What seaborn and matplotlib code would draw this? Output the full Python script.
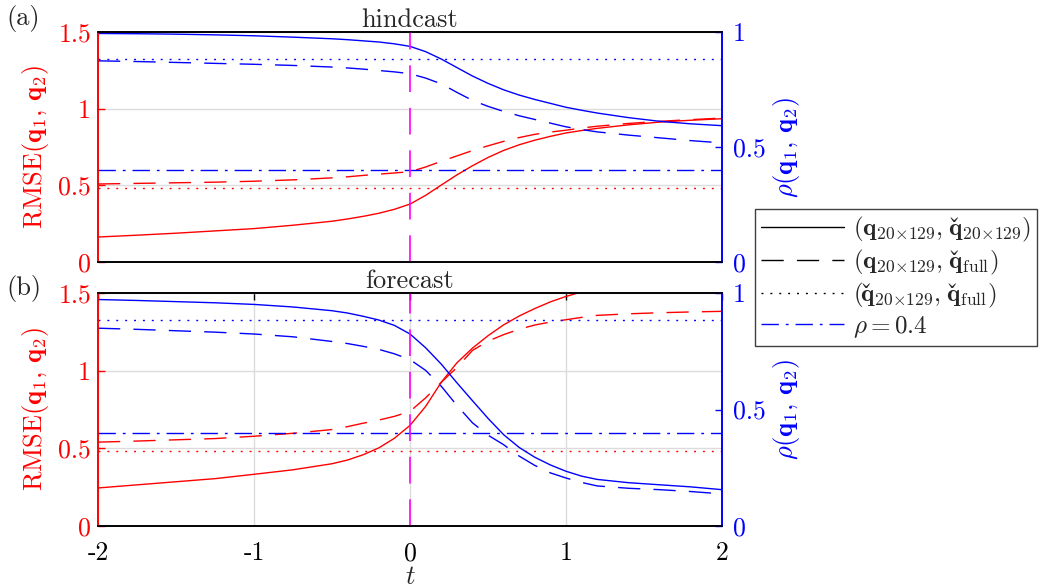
import numpy as np
import pandas as pd
import matplotlib
matplotlib.use('Agg')
import matplotlib.pyplot as plt
import seaborn as sns
from matplotlib.lines import Line2D

# tiempos
t = [-2, -1.75, -1.5, -1.25, -1, -0.75, -0.5, -0.4, -0.3, -0.2, -0.1, 0, 0.1, 0.2, 0.3,
     0.4, 0.5, 0.6, 0.7, 0.8, 0.9, 1.0, 1.1, 1.2, 1.4, 1.6, 1.8, 2.0]
t_ends = [-2, 2]

# (a) hindcast
rmse_h_solid = [0.163, 0.175, 0.188, 0.203, 0.218, 0.240, 0.266, 0.281, 0.298, 0.318,
                0.344, 0.378, 0.435, 0.502, 0.568, 0.628, 0.682, 0.728, 0.765, 0.795,
                0.820, 0.842, 0.858, 0.872, 0.895, 0.913, 0.925, 0.935]
rmse_h_dash = [0.509, 0.513, 0.517, 0.521, 0.527, 0.536, 0.549, 0.556, 0.565, 0.573,
               0.581, 0.589, 0.620, 0.657, 0.692, 0.727, 0.758, 0.787, 0.812, 0.833,
               0.848, 0.860, 0.874, 0.886, 0.904, 0.918, 0.929, 0.939]
rho_h_solid = [0.994, 0.993, 0.991, 0.988, 0.984, 0.978, 0.971, 0.967, 0.962, 0.957,
               0.949, 0.938, 0.915, 0.883, 0.846, 0.809, 0.777, 0.749, 0.726, 0.707,
               0.690, 0.673, 0.660, 0.648, 0.628, 0.612, 0.601, 0.593]
rho_h_dash = [0.875, 0.872, 0.868, 0.864, 0.860, 0.855, 0.848, 0.844, 0.839, 0.833,
              0.827, 0.819, 0.800, 0.775, 0.738, 0.703, 0.677, 0.655, 0.636, 0.620,
              0.604, 0.588, 0.576, 0.566, 0.552, 0.540, 0.528, 0.518]

# (b) forecast
rmse_f_solid = [0.245, 0.265, 0.285, 0.305, 0.333, 0.362, 0.401, 0.425, 0.459, 0.503,
                0.565, 0.648, 0.770, 0.925, 1.050, 1.145, 1.225, 1.295, 1.352, 1.400,
                1.443, 1.478, 1.507, 1.530, 1.565, 1.590, 1.605, 1.615]
rmse_f_dash = [0.540, 0.547, 0.555, 0.563, 0.578, 0.597, 0.621, 0.640, 0.662, 0.682,
               0.706, 0.738, 0.825, 0.925, 1.020, 1.130, 1.190, 1.232, 1.267, 1.294,
               1.313, 1.328, 1.343, 1.356, 1.366, 1.373, 1.378, 1.382]
rho_f_solid = [0.972, 0.968, 0.963, 0.958, 0.951, 0.940, 0.924, 0.914, 0.900, 0.884,
               0.861, 0.824, 0.765, 0.695, 0.615, 0.538, 0.462, 0.392, 0.337, 0.295,
               0.262, 0.235, 0.214, 0.200, 0.186, 0.177, 0.168, 0.156]
rho_f_dash = [0.849, 0.844, 0.838, 0.832, 0.824, 0.812, 0.792, 0.783, 0.771, 0.758,
              0.739, 0.714, 0.668, 0.600, 0.518, 0.443, 0.390, 0.349, 0.300, 0.260,
              0.228, 0.206, 0.187, 0.172, 0.162, 0.156, 0.148, 0.138]

# referencias constantes
rmse_dot = 0.485
rho_dot = 0.885
rho_thr = 0.4

x_ticks = [-2, -1, 0, 1, 2]
x_ticklabels = ['-2', '-1', '0', '1', '2']
rmse_ticks = [0, 0.5, 1, 1.5]
rmse_ticklabels = ['0', '0.5', '1', '1.5']
rho_ticks = [0, 0.5, 1]
rho_ticklabels = ['0', '0.5', '1']

# q con caron: el caron se monta sobre la q con espacio negativo
QC = r'{\hspace{0.38}\check\hspace{-0.48}\mathbf{q}}'
SUB = r'_{20{\times}129}'
legend_labels = [r'$(\mathbf{q}' + SUB + r',\,' + QC + SUB + r')$',
                 r'$(\mathbf{q}' + SUB + r',\,' + QC + r'_{\mathrm{full}})$',
                 r'$(' + QC + SUB + r',\,' + QC + r'_{\mathrm{full}})$',
                 r'$\rho = 0.4$']

sns.set_style('white')
plt.rcParams['font.family'] = ['cmr10', 'DejaVu Serif']
plt.rcParams['mathtext.fontset'] = 'cm'
plt.rcParams['axes.unicode_minus'] = False

DASH = (0, (16, 9.5))
DOT = (0, (1.4, 5))
DASHDOT = (0, (12.5, 5, 2, 5))
LW = 1.0
FS = 19
TFS = 18.5

fig = plt.figure(figsize=(10.55, 5.88), dpi=100)
ax_a = fig.add_axes([0.0929, 0.5544, 0.5915, 0.391])
ax_b = fig.add_axes([0.0929, 0.1054, 0.5915, 0.3963])


def panel(ax, title, rmse_s, rmse_d, rho_s, rho_d, show_x):
    ax2 = ax.twinx()
    ax.grid(True, color='#dcdcdc', lw=1)
    ax.set_axisbelow(True)

    sns.lineplot(x=t, y=rmse_s, ax=ax, color='red', lw=LW)
    sns.lineplot(x=t, y=rmse_d, ax=ax, color='red', lw=LW, linestyle=DASH)
    sns.lineplot(x=t_ends, y=[rmse_dot] * 2, ax=ax, color='red', lw=LW, linestyle=DOT)

    sns.lineplot(x=t, y=rho_s, ax=ax2, color='blue', lw=LW)
    sns.lineplot(x=t, y=rho_d, ax=ax2, color='blue', lw=LW, linestyle=DASH)
    sns.lineplot(x=t_ends, y=[rho_dot] * 2, ax=ax2, color='blue', lw=LW, linestyle=DOT)
    sns.lineplot(x=t_ends, y=[rho_thr] * 2, ax=ax2, color='blue', lw=LW, linestyle=DASHDOT)
    ax2.axvline(0, color='magenta', lw=1.2, linestyle=DASH)

    ax.set_xlim(-2, 2)
    ax.set_ylim(0, 1.5)
    ax2.set_ylim(0, 1)

    ax.set_yticks(rmse_ticks, rmse_ticklabels)
    ax2.set_yticks(rho_ticks, rho_ticklabels)
    ax.tick_params(axis='y', colors='red', direction='in', length=5, width=1,
                   labelsize=TFS, pad=5)
    ax2.tick_params(axis='y', colors='blue', direction='in', length=5, width=1,
                    labelsize=TFS, pad=8)
    if show_x:
        ax.set_xticks(x_ticks, x_ticklabels)
        ax.tick_params(axis='x', direction='in', top=True, length=5, width=1,
                       labelsize=TFS, pad=11, colors='black')
        ax.set_xlabel('$t$', fontsize=FS)
        ax.xaxis.set_label_coords(0.5, -0.168)
    else:
        ax.set_xticks([])

    for a in (ax, ax2):
        a.spines['left'].set_color('red')
        a.spines['right'].set_color('blue')
        a.spines['top'].set_color('black')
        a.spines['bottom'].set_color('black')
        for s in a.spines.values():
            s.set_linewidth(1.2)

    ax.set_ylabel(r'RMSE$(\mathbf{q}_1,\,\mathbf{q}_2)$', color='red', fontsize=FS)
    ax.yaxis.set_label_coords(-0.075, 0.5)
    ax2.set_ylabel(r'$\rho(\mathbf{q}_1,\,\mathbf{q}_2)$', color='blue', fontsize=FS)
    ax2.yaxis.set_label_coords(1.078, 0.5)
    ax.set_title(title, fontsize=FS, pad=1)
    return ax2


panel(ax_a, 'hindcast', rmse_h_solid, rmse_h_dash, rho_h_solid, rho_h_dash, False)
panel(ax_b, 'forecast', rmse_f_solid, rmse_f_dash, rho_f_solid, rho_f_dash, True)

fig.text(0.006, 1 - 19 / 588, '(a)', fontsize=FS, ha='left', va='center')
fig.text(0.006, 1 - 288 / 588, '(b)', fontsize=FS, ha='left', va='center')

handles = [Line2D([], [], color='black', lw=LW),
           Line2D([], [], color='black', lw=LW, linestyle=DASH),
           Line2D([], [], color='black', lw=LW, linestyle=DOT),
           Line2D([], [], color='blue', lw=LW, linestyle=DASHDOT)]
leg = fig.legend(handles, legend_labels, loc='upper left',
                 bbox_to_anchor=(755 / 1055, 1 - 209 / 588), frameon=True, fancybox=False,
                 edgecolor='#404040', framealpha=1, fontsize=18, handlelength=3.3,
                 borderaxespad=0, borderpad=0.25, labelspacing=0.15, handletextpad=0.36)
leg.get_frame().set_linewidth(1)

fig.savefig('out.png', dpi=100)
